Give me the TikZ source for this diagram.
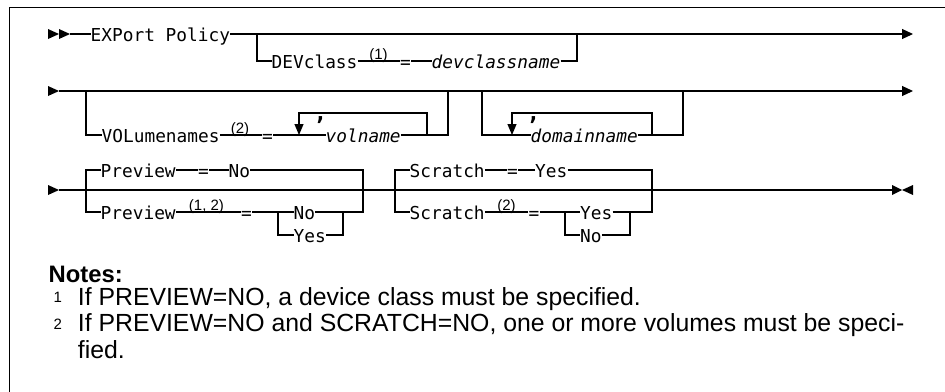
\documentclass[tikz,border=0pt]{standalone}
\usepackage{fontspec}
\setmainfont{Liberation Sans}
\newfontfamily\synfont{DejaVu Sans Mono}
\usetikzlibrary{arrows.meta}
\begin{document}
\begin{tikzpicture}[x=1pt,y=-1pt,
  rail/.style={line width=1.1pt},
  rowend/.style={-{Triangle[length=11pt,width=10pt]}},
  looptip/.style={-{Triangle[length=11pt,width=9pt]}},
  kw/.style={font=\synfont\fontsize{17.8}{20}\selectfont,inner sep=0pt,text height=15pt,text depth=0.2pt,anchor=west},
  var/.style={kw,font=\synfont\fontsize{17.8}{20}\selectfont\itshape},
  eqs/.style={kw,anchor=center},
  sep/.style={font=\synfont\fontsize{22}{24}\selectfont\bfseries,inner sep=0pt,anchor=base},
  fnref/.style={font=\fontsize{15}{16}\selectfont,inner sep=0pt,anchor=base},
  note/.style={font=\fontsize{24.8}{28}\selectfont,inner sep=0pt,anchor=base west},
  notehd/.style={note,font=\fontsize{23.8}{28}\selectfont\bfseries},
  fnnum/.style={note,font=\fontsize{15}{16}\selectfont}]
  \useasboundingbox (0,0) rectangle (945,391);
  \draw[line width=1.6pt] (9.5,392) |- (946,7.3);
  % row 1
  \foreach \x in {48,59} \fill (\x,29) -- ++(11,5) -- ++(-11,5) -- cycle;
  \coordinate (r1s) at (70,34);
  \coordinate (r1e) at (913,34);
  \coordinate (b1l) at (257,34);
  \coordinate (b1r) at (577,34);
  \node[kw] (exp) at (90.5,34) {EXPort Policy};
  \node[kw] (dev) at (271.5,61) {DEVclass};
  \node[fnref] (n1) at (378.5,59.5) {(1)};
  \node[eqs] (eq1) at (405.5,61) {=};
  \node[var] (dcn) at (431.5,61) {devclassname};
  \draw[rail] (r1s) -- (exp.west);
  \draw[rail,rowend] (exp.east) -- (r1e);
  \draw[rail] (b1l) |- (dev.west);
  \draw[rail] (dev.east) -- (eq1.west);
  \draw[rail] (eq1.east) -- (dcn.west);
  \draw[rail] (dcn.east) -| (b1r);
  % row 2
  \fill (48,86) -- ++(11,5) -- ++(-11,5) -- cycle;
  \coordinate (r2s) at (59,91);
  \coordinate (r2e) at (913,91);
  \coordinate (b2l) at (86,91);
  \coordinate (b2r) at (448,91);
  \coordinate (la1) at (299,135);
  \coordinate (lt1) at (299,113);
  \coordinate (lr1) at (427,135);
  \coordinate (b3l) at (482,91);
  \coordinate (b3r) at (683,91);
  \coordinate (la2) at (512,135);
  \coordinate (lt2) at (512,113);
  \coordinate (lr2) at (652,135);
  \node[kw] (vol) at (101.5,135) {VOLumenames};
  \node[fnref] (n2) at (240,133.5) {(2)};
  \node[eqs] (eq2) at (267.5,135) {=};
  \node[var] (vn) at (325.5,135) {volname};
  \node[sep] (c1) at (320.5,120) {,};
  \node[var] (dn) at (530.5,135) {domainname};
  \node[sep] (c2) at (533.5,120) {,};
  \draw[rail,rowend] (r2s) -- (r2e);
  \draw[rail] (b2l) |- (vol.west);
  \draw[rail] (vol.east) -- (eq2.west);
  \draw[rail] (eq2.east) -- (vn.west);
  \draw[rail] (vn.east) -| (b2r);
  \draw[rail,looptip] (lr1) |- (lt1) -- (la1);
  \draw[rail] (b3l) |- (dn.west);
  \draw[rail] (dn.east) -| (b3r);
  \draw[rail,looptip] (lr2) |- (lt2) -- (la2);
  % row 3
  \fill (48,185) -- ++(11,5) -- ++(-11,5) -- cycle;
  \fill (892,185) -- ++(10,5) -- ++(-10,5) -- cycle;
  \fill (913,185) -- ++(-11,5) -- ++(11,5) -- cycle;
  \coordinate (r3s) at (59,190);
  \coordinate (r3e) at (892,190);
  \coordinate (pL) at (86,190);
  \coordinate (pR) at (363,190);
  \coordinate (pf) at (278,212);
  \coordinate (pj) at (343,212);
  \coordinate (sL) at (395,190);
  \coordinate (sR) at (652,190);
  \coordinate (sf) at (565,212);
  \coordinate (sj) at (630,212);
  \node[kw] (pv1) at (100.5,170) {Preview};
  \node[eqs] (eq3) at (203.5,170) {=};
  \node[kw] (no1) at (228.5,170) {No};
  \node[kw] (pv2) at (100.5,212) {Preview};
  \node[fnref] (n3) at (206.5,210.5) {(1, 2)};
  \node[eqs] (eq4) at (246.5,212) {=};
  \node[kw] (no2) at (293.5,212) {No};
  \node[kw] (yes1) at (293.5,235) {Yes};
  \node[kw] (sc1) at (409.5,170) {Scratch};
  \node[eqs] (eq5) at (512.5,170) {=};
  \node[kw] (yes2) at (535,170) {Yes};
  \node[kw] (sc2) at (409.5,212) {Scratch};
  \node[fnref] (n4) at (506.5,210.5) {(2)};
  \node[eqs] (eq6) at (534,212) {=};
  \node[kw] (yes3) at (580,212) {Yes};
  \node[kw] (no3) at (580,235) {No};
  \draw[rail] (r3s) -- (r3e);
  \draw[rail] (pv1.west) -| (pL) |- (pv2.west);
  \draw[rail] (pv1.east) -- (eq3.west);
  \draw[rail] (eq3.east) -- (no1.west);
  \draw[rail] (no1.east) -| (pR) |- (pj);
  \draw[rail] (pv2.east) -- (eq4.west);
  \draw[rail] (eq4.east) -- (no2.west);
  \draw[rail] (pf) |- (yes1.west);
  \draw[rail] (no2.east) -- (pj);
  \draw[rail] (yes1.east) -| (pj);
  \draw[rail] (sc1.west) -| (sL) |- (sc2.west);
  \draw[rail] (sc1.east) -- (eq5.west);
  \draw[rail] (eq5.east) -- (yes2.west);
  \draw[rail] (yes2.east) -| (sR) |- (sj);
  \draw[rail] (sc2.east) -- (eq6.west);
  \draw[rail] (eq6.east) -- (yes3.west);
  \draw[rail] (sf) |- (no3.west);
  \draw[rail] (yes3.east) -- (sj);
  \draw[rail] (no3.east) -| (sj);
  % notes
  \node[notehd] (nt) at (48.5,282.7) {Notes:};
  \node[fnnum] (f1) at (53.5,302) {1};
  \node[note] (t1) at (77.7,305) {If PREVIEW=NO, a device class must be specified.};
  \node[fnnum] (f2) at (53.5,329) {2};
  \node[note] (t2) at (77.7,331.7) {If PREVIEW=NO and SCRATCH=NO, one or more volumes must be speci-};
  \node[note] (t3) at (77.7,358) {fied.};
\end{tikzpicture}
\end{document}
